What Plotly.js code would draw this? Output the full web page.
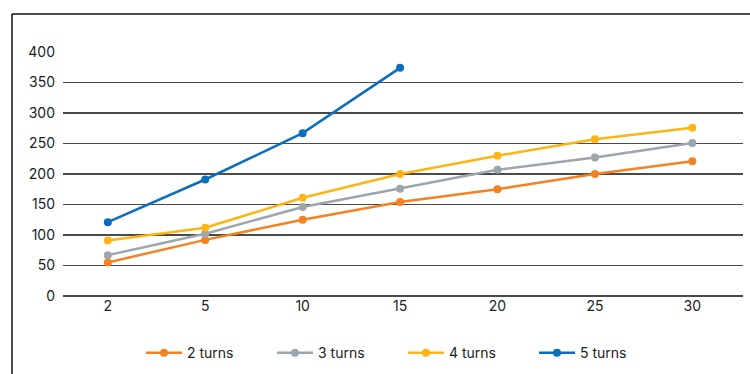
<!DOCTYPE html>
<html>
<head>
<meta charset="utf-8">
<script src="https://cdn.plot.ly/plotly-3.0.1.min.js"></script>
<style>html,body{margin:0;padding:0;background:#fff;}#chart{width:750px;height:374px;}</style>
</head>
<body>
<div id="chart"></div>
<script>
// Data
const categories = ["2", "5", "10", "15", "20", "25", "30"];
const seriesNames = ["2 turns", "3 turns", "4 turns", "5 turns"];
const turns2 = [55, 92, 125, 154, 175, 200, 221];
const turns3 = [67, 102, 146, 176, 207, 227, 251];
const turns4 = [91, 112, 161, 200, 230, 257, 276];
const turns5 = [121, 191, 267, 374];
const yTicks = [0, 50, 100, 150, 200, 250, 300, 350, 400];

const colors = ["#F58220", "#9CA6AC", "#FDB515", "#0A6EBD"];
const allSeries = [turns2, turns3, turns4, turns5];

const traces = allSeries.map((vals, i) => ({
  type: "scatter",
  mode: "lines+markers",
  name: seriesNames[i],
  x: categories.slice(0, vals.length),
  y: vals,
  line: {color: colors[i], width: 2.5},
  marker: {color: colors[i], size: 8},
  hoverinfo: "x+y"
}));

const layout = {
  width: 750,
  height: 374,
  margin: {l: 63, r: 7, t: 52, b: 78, autoexpand: false},
  paper_bgcolor: "#fff",
  plot_bgcolor: "#fff",
  font: {family: "Inter, 'Open Sans', sans-serif", size: 14, color: "#222"},
  showlegend: true,
  legend: {
    orientation: "h",
    x: 0.5, xanchor: "center",
    y: -0.234, yanchor: "middle",
    entrywidth: 80, entrywidthmode: "pixels",
    font: {size: 14, color: "#222"},
    itemwidth: 36,
    tracegroupgap: 0
  },
  xaxis: {
    type: "category",
    range: [-0.46, 6.52],
    showgrid: false,
    zeroline: false,
    showline: false,
    ticks: "",
    tickfont: {size: 14, color: "#222"},
    fixedrange: true
  },
  yaxis: {
    range: [0, 400],
    tickvals: yTicks,
    showgrid: true,
    gridcolor: "#4a4a4a",
    gridwidth: 1.3,
    zeroline: true,
    zerolinecolor: "#4a4a4a",
    zerolinewidth: 1.3,
    ticks: "",
    ticklabelstandoff: 7,
    tickfont: {size: 14, color: "#222"},
    fixedrange: true
  },
  shapes: [
    {type: "line", xref: "paper", yref: "paper", x0: -0.075, x1: 1.02, y0: 1.1557, y1: 1.1557, line: {color: "#111", width: 1.5}},
    {type: "line", xref: "paper", yref: "paper", x0: -0.075, x1: -0.075, y0: 1.1557, y1: -0.4, line: {color: "#111", width: 1.5}}
  ]
};

Plotly.newPlot("chart", traces, layout, {displayModeBar: false, staticPlot: true});
</script>
</body>
</html>
